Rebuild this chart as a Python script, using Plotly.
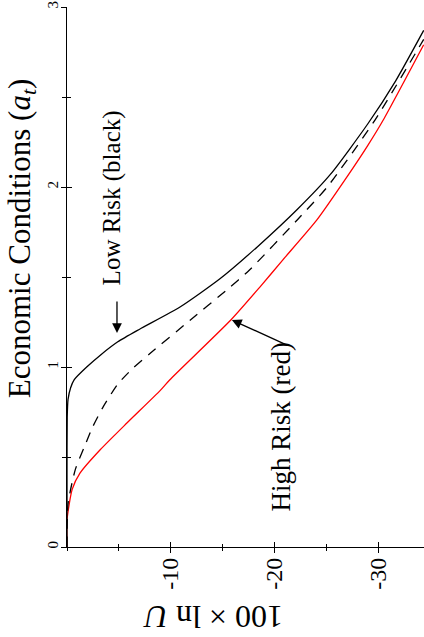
import plotly.graph_objects as go

# 100 x ln U (horizontal) and economic conditions a_t (vertical)
low_lnU = [0, 0, -0.02, -0.1, -0.35, -0.7, -1.9, -3.3, -4.9, -7.0, -10.9, -14.75, -18.4, -22.2, -25.4, -29.0, -31.7, -34.4]
low_a = [0, 0.4, 0.72, 0.82, 0.885, 0.93, 1.0, 1.07, 1.14, 1.21, 1.333, 1.49, 1.67, 1.875, 2.07, 2.35, 2.59, 2.87]

mid_lnU = [0, -0.1, -0.8, -1.7, -2.5, -3.5, -4.9, -6.3, -8.0, -11.9, -15.4, -17.6, -22.2, -25.1, -29.7, -34.4]
mid_a = [0, 0.24, 0.43, 0.56, 0.67, 0.78, 0.905, 0.99, 1.075, 1.261, 1.428, 1.539, 1.817, 2.0, 2.372, 2.82]

high_lnU = [0, 0, -0.5, -1.25, -3.2, -5.8, -9.0, -9.9, -15.8, -18.6, -20.8, -24.1, -27.0, -29.0, -30.5, -34.4]
high_a = [0, 0.15, 0.32, 0.41, 0.54, 0.69, 0.87, 0.928, 1.261, 1.444, 1.594, 1.817, 2.056, 2.23, 2.372, 2.79]

a_ticks = [0, 1, 2, 3]
u_ticks = [-10, -20, -30]

FONT = "Liberation Serif"
XR = [0, -34.43]
YR = [0, 3]

fig = go.Figure()
fig.add_trace(go.Scatter(x=high_lnU, y=high_a, mode="lines",
                         line=dict(color="#ff0000", width=1.3, shape="spline", smoothing=0.6)))
fig.add_trace(go.Scatter(x=mid_lnU, y=mid_a, mode="lines",
                         line=dict(color="black", width=1.3, dash="10px,8px", shape="spline", smoothing=0.6)))
fig.add_trace(go.Scatter(x=low_lnU, y=low_a, mode="lines",
                         line=dict(color="black", width=1.3, shape="spline", smoothing=0.6)))
fig.add_trace(go.Scatter(x=[], y=[], xaxis="x2", yaxis="y2", showlegend=False))

fig.update_layout(
    width=424, height=637,
    margin=dict(l=67, r=0, t=7, b=90),
    paper_bgcolor="white", plot_bgcolor="white",
    showlegend=False,
    font=dict(family=FONT, color="black"),
    xaxis=dict(range=XR, showgrid=False, zeroline=False, showline=True, linecolor="black", linewidth=1.3,
               tickvals=u_ticks, ticktext=[str(v) for v in u_ticks], tickangle=-90,
               ticks="outside", ticklen=5, tickwidth=1.3, tickcolor="black", ticklabelstandoff=-5,
               tickfont=dict(family=FONT, size=24),
               minor=dict(dtick=5, ticks="outside", ticklen=3, tickwidth=1.1, tickcolor="black")),
    yaxis=dict(range=YR, showgrid=False, zeroline=False, showline=True, linecolor="black", linewidth=1.3,
               tickvals=a_ticks, tickangle=-90,
               ticks="outside", ticklen=5, tickwidth=1.3, tickcolor="black", ticklabelstandoff=-3,
               tickfont=dict(family=FONT, size=15),
               minor=dict(dtick=0.5, ticks="outside", ticklen=4, tickwidth=1.1, tickcolor="black")),
    xaxis2=dict(range=XR, overlaying="x", anchor="y", side="bottom", showgrid=False, zeroline=False,
                showline=False, showticklabels=False, tickvals=u_ticks,
                ticks="inside", ticklen=5, tickwidth=1.3, tickcolor="black",
                minor=dict(dtick=5, ticks="inside", ticklen=3, tickwidth=1.1, tickcolor="black")),
    yaxis2=dict(range=YR, overlaying="y", anchor="x", side="left", showgrid=False, zeroline=False,
                showline=False, showticklabels=False, tickvals=a_ticks,
                ticks="inside", ticklen=5, tickwidth=1.3, tickcolor="black",
                minor=dict(dtick=0.5, ticks="inside", ticklen=4, tickwidth=1.1, tickcolor="black")),
)

# axis titles
fig.add_annotation(text="Economic Conditions (<i>a</i><sub><i>t</i></sub>)", xref="paper", yref="paper",
                   x=-0.126, y=0.57, textangle=-90, showarrow=False,
                   xanchor="center", yanchor="middle", font=dict(family=FONT, size=31))
fig.add_annotation(text="100 × ln <i>U</i>", xref="paper", yref="paper",
                   x=0.409, y=-0.13, textangle=180, showarrow=False,
                   xanchor="center", yanchor="middle", font=dict(family=FONT, size=32))

# curve labels
fig.add_annotation(text="Low Risk (black)", x=-4.3, y=1.94, textangle=-90, showarrow=False,
                   xanchor="center", yanchor="middle", font=dict(family=FONT, size=25))
fig.add_annotation(text="", x=-4.82, y=1.189, ax=0, ay=-33, showarrow=True,
                   arrowhead=2, arrowsize=1.5, arrowwidth=1.3, arrowcolor="black")
fig.add_annotation(text="High Risk (red)", x=-20.6, y=0.667, textangle=-90, showarrow=False,
                   xanchor="center", yanchor="middle", font=dict(family=FONT, size=27))
fig.add_annotation(text="", x=-15.9, y=1.261, ax=55, ay=25, showarrow=True,
                   arrowhead=2, arrowsize=1.5, arrowwidth=1.3, arrowcolor="black")

fig.write_html("out.html")
